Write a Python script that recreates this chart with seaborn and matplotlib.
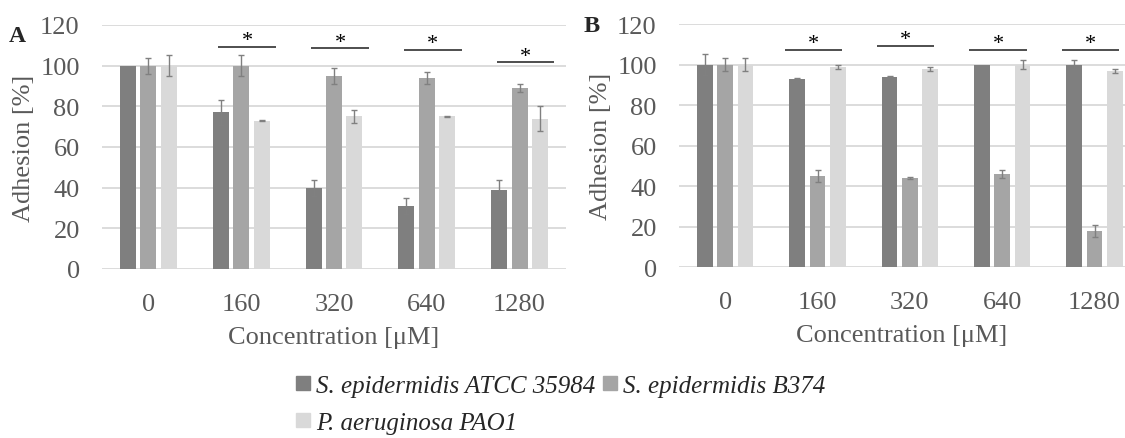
import numpy as np
import pandas as pd
import matplotlib
matplotlib.use("Agg")
import matplotlib.pyplot as plt
import seaborn as sns
from matplotlib.patches import Patch

concentrations = ["0", "160", "320", "640", "1280"]
strains = ["S. epidermidis ATCC 35984", "S. epidermidis B374", "P. aeruginosa PAO1"]
colors = ["#7f7f7f", "#a5a5a5", "#d9d9d9"]

# panel A - means and SD
a_atcc = [100, 77, 40, 31, 39]
a_b374 = [100, 100, 95, 94, 89]
a_pao1 = [100, 73, 75, 75, 74]
a_atcc_sd = [0, 6, 4, 4, 5]
a_b374_sd = [4, 5, 4, 3, 2]
a_pao1_sd = [5, 0.3, 3, 0.3, 6]
a_sig = [None, 109.3, 108.5, 107.9, 101.6]

# panel B
b_atcc = [100, 93, 94, 100, 100]
b_b374 = [100, 45, 44, 46, 18]
b_pao1 = [100, 99, 98, 100, 97]
b_atcc_sd = [5, 0.3, 0.3, 0, 2]
b_b374_sd = [3, 3, 0.3, 2, 3]
b_pao1_sd = [3, 1, 1, 2, 1]
b_sig = [None, 107.2, 109.2, 107.4, 107.2]

sns.set_style("white")
plt.rcParams['font.family'] = ['Liberation Serif', 'DejaVu Serif']
tick_col = "#595959"
fs = 19


def panel(ax, vals, sds, sig, sig_shift, letter, letter_xy, letter_size):
    rows = []
    for s, v in zip(strains, vals):
        for c, y in zip(concentrations, v):
            rows.append({"conc": c, "strain": s, "adhesion": y})
    df = pd.DataFrame(rows)
    sns.barplot(data=df, x="conc", y="adhesion", hue="strain", order=concentrations,
                hue_order=strains, palette=colors, errorbar=None, width=0.66, gap=0.22,
                legend=False, ax=ax, linewidth=0, saturation=1)
    bars = ax.patches
    for j in range(len(strains)):
        for i in range(len(concentrations)):
            p = bars[j * len(concentrations) + i]
            e = sds[j][i]
            if e > 0:
                ax.errorbar(p.get_x() + p.get_width() / 2, p.get_height(), yerr=e,
                            fmt="none", ecolor="#808080", elinewidth=1, capsize=2.5,
                            capthick=1)
    # significance bars
    for i, h in enumerate(sig):
        if h is None:
            continue
        xc = i + sig_shift
        ax.plot([xc - 0.31, xc + 0.31], [h, h], color="#404040", lw=1.3,
                solid_capstyle="butt", clip_on=False)
        ax.text(xc, h + 0.8, "*", ha="center", va="baseline", fontsize=16, color="black")
    ax.set_ylim(0, 120)
    ax.set_yticks(range(0, 121, 20))
    ax.yaxis.grid(True, color="#d9d9d9", lw=1.3)
    ax.set_axisbelow(True)
    for sp in ax.spines.values():
        sp.set_visible(False)
    ax.tick_params(axis="y", length=0, labelsize=fs, labelcolor=tick_col, pad=16)
    ax.tick_params(axis="x", length=0, labelsize=fs, labelcolor=tick_col, pad=17)
    ax.set_xlabel("Concentration [\u03bcM]", fontsize=fs, color=tick_col, labelpad=8)
    ax.set_ylabel("Adhesion [%]", fontsize=fs, color=tick_col, labelpad=4)
    fig.text(letter_xy[0], letter_xy[1], letter, fontsize=letter_size, fontweight="bold",
             ha="left", va="center")


fig = plt.figure(figsize=(11.25, 4.39), dpi=100)
W, H = 1125, 439
axA = fig.add_axes([102 / W, (H - 270) / H, 464 / W, 244 / H])
axB = fig.add_axes([679 / W, (H - 268.3) / H, 446 / W, 243.3 / H])

panel(axA, [a_atcc, a_b374, a_pao1], [a_atcc_sd, a_b374_sd, a_pao1_sd], a_sig, 0.065,
      "A", (9 / W, 1 - 36 / H), 17)
axA.set_xlim(-0.5, 4.5)
panel(axB, [b_atcc, b_b374, b_pao1], [b_atcc_sd, b_b374_sd, b_pao1_sd], b_sig, -0.045,
      "B", (584 / W, 1 - 27 / H), 17.5)
axB.set_xlim(-0.5, 4.33)

handles = [Patch(color=c, label=s) for c, s in zip(colors, strains)]
order = [0, 2, 1]
fig.legend(handles=[handles[k] for k in order], loc="upper left",
           bbox_to_anchor=(296 / W, 1 - 376 / H), ncol=2, frameon=False,
           prop={"family": "Liberation Serif", "style": "italic", "size": 18},
           handlelength=0.55, handleheight=0.45, handletextpad=0.25,
           columnspacing=0.3, labelspacing=0.6, borderaxespad=0, borderpad=0)

fig.savefig("out.png", dpi=100)
